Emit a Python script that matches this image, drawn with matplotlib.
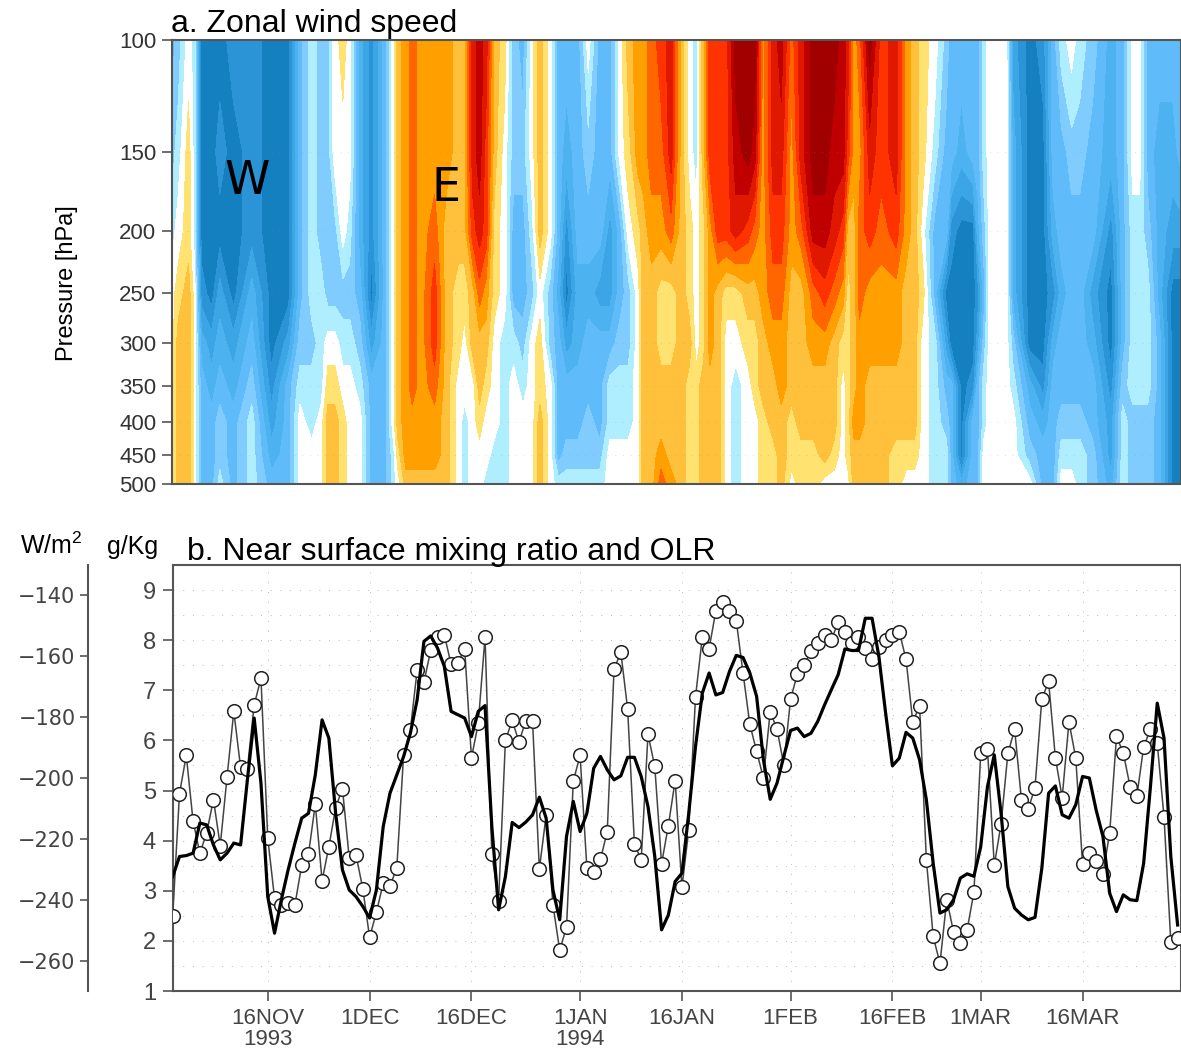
import numpy as np
import matplotlib
matplotlib.use('Agg')
import matplotlib.pyplot as plt
from matplotlib.colors import ListedColormap, BoundaryNorm

plt.rcParams['font.family'] = ['Liberation Sans', 'DejaVu Sans']
plt.rcParams['mathtext.default'] = 'regular'

W, H = 1181, 1052

pressure = [100, 150, 200, 250, 300, 350, 400, 450, 500]
pressure_labels = ['100', '150', '200', '250', '300', '350', '400', '450', '500']

# days since 2 Nov 1993, one per column of wind_bands
wind_days = [0, 1, 2.5, 3.4, 4.4, 5.9, 7.1, 9.1, 11.8, 14.7, 17.2, 18.9, 20.6, 22, 23, 24, 25.2, 26.2, 27.7, 29.4,
             31.4, 32.6, 33.3, 34.5, 35.4, 36.8, 38.7, 40.4, 42.2, 43.1, 44.3, 45.3, 46.3, 47.5, 49,
             50.3, 51.7, 53, 54.2, 55.7, 56.9, 58.1, 59.8, 61.3, 63, 64.5, 66, 67.2, 68.6, 69.4, 70.6, 72, 73.5, 75,
             76.2, 77.2, 78.2, 79.2, 80.4, 81.6, 83, 84.8, 85.8, 87, 88.5, 89.7, 91.2, 92.6, 94.4, 96.1, 97.5,
             98.8, 99.5, 100.4, 101.2, 102.7, 104.4, 106.6, 108.1, 109.3, 110.5, 112.3, 114, 114.7, 116.2, 117.9,
             118.6, 119.5, 120.4, 122.8, 123.8, 126.2, 128.2, 129.7, 130.9, 132.4, 133.6, 135.5, 138.2, 139.9,
             141.4, 142.4, 143.6, 145.3, 147.3, 148.6]

# zonal wind in 5 m/s steps, top (100 hPa) to bottom (500 hPa), negative = westerly
wind_bands = [
    [-3, -2, -1, 0, 0, 0, 0, 0, 0],
    [-2, -1, 0, 1, 2, 2, 2, 2, 2],
    [0, 1, 1, 2, 2, 2, 2, 2, 2],
    [-1, -1, -1, 0, 0, 0, 0, 0, 0],
    [-7, -7, -7, -6, -4, -3, -3, -3, -3],
    [-7, -7, -7, -7, -5, -4, -3, -3, -3],
    [-7, -6, -7, -5, -4, -3, -2, -2, -1],
    [-6, -7, -7, -7, -5, -4, -3, -3, -3],
    [-6, -6, -6, -4, -3, -2, -1, -1, -1],
    [-7, -7, -7, -7, -7, -6, -5, -4, -3],
    [-7, -7, -7, -7, -5, -3, -3, -3, -3],
    [-3, -3, -3, -3, -2, -1, 0, 0, 0],
    [-1, -1, -1, -1, -2, -1, -1, 0, 0],
    [-2, -2, -2, -1, -1, -1, 0, 0, 0],
    [-2, -2, -2, -2, 0, 1, 2, 2, 2],
    [0, 0, -2, -2, 0, 1, 2, 2, 2],
    [1, 0, 0, -2, -1, 0, 1, 1, 1],
    [0, 0, -1, -2, -1, 0, 0, 0, 0],
    [-4, -4, -4, -3, -2, -1, 0, 0, 0],
    [-6, -6, -6, -7, -5, -3, -3, -3, -3],
    [-3, -3, -3, -3, -3, -3, -3, -3, -3],
    [0, 0, 0, 0, 0, 0, 0, -1, -1],
    [2, 2, 2, 2, 2, 2, 2, 1, 0],
    [3, 3, 3, 3, 3, 3, 3, 3, 2],
    [4, 4, 4, 4, 4, 4, 3, 3, 2],
    [3, 3, 3, 3, 3, 3, 3, 3, 2],
    [3, 3, 4, 5, 5, 4, 3, 3, 2],
    [3, 3, 2, 2, 2, 2, 2, 2, 2],
    [2, 2, 2, 1, 1, 0, 0, 0, 0],
    [2, 2, 2, 1, 0, 0, -1, -1, -1],
    [6, 6, 5, 2, 2, 0, 0, 0, 0],
    [7, 7, 6, 4, 2, 2, 1, 0, 0],
    [6, 5, 5, 3, 2, 1, 0, 0, -1],
    [2, 2, 1, 1, 0, 0, 0, -1, -1],
    [1, 0, 0, 0, -1, -1, -1, -1, -1],
    [-2, -2, -3, -3, -1, 0, 0, 0, 0],
    [-3, -2, -3, -3, -2, -1, 0, 0, 0],
    [0, 0, -1, -2, 0, 0, 0, 0, 0],
    [2, 2, 2, 0, 1, 1, 2, 2, 2],
    [0, 0, 0, -2, -2, 0, 0, 0, 0],
    [-3, -3, -3, -4, -3, -3, -3, -3, -1],
    [-3, -4, -6, -7, -5, -3, -3, -2, -1],
    [-3, -3, -3, -4, -4, -3, -3, -2, -1],
    [0, -2, -3, -4, -3, -3, -2, -2, -1],
    [-3, -3, -3, -5, -3, -3, -3, -2, -1],
    [-3, -3, -5, -5, -3, -1, -1, 0, 0],
    [0, 0, -3, -3, -2, -1, -1, 0, 0],
    [2, 1, 0, -2, -2, -1, -1, 0, 0],
    [3, 3, 1, 0, 0, 0, 0, 0, 0],
    [3, 3, 2, 2, 2, 2, 2, 2, 2],
    [4, 4, 3, 2, 2, 2, 2, 2, 2],
    [5, 4, 3, 1, 1, 2, 2, 3, 4],
    [6, 6, 4, 1, 1, 2, 2, 2, 3],
    [2, 2, 2, 2, 2, 2, 2, 2, 2],
    [0, 0, 1, 1, 2, 1, 1, 1, 1],
    [-1, -1, 0, 0, 0, 1, 1, 1, 1],
    [2, 2, 1, 1, 1, 2, 2, 2, 2],
    [5, 5, 3, 3, 3, 2, 2, 2, 2],
    [5, 5, 5, 2, 2, 2, 2, 2, 2],
    [5, 5, 5, 1, 0, 0, 0, 0, 0],
    [8, 7, 6, 1, 0, -1, -1, -1, -1],
    [8, 8, 5, 2, 1, 0, 0, 0, 0],
    [8, 7, 4, 2, 1, 1, 0, 0, 0],
    [3, 3, 3, 3, 2, 2, 1, 1, 1],
    [6, 6, 5, 4, 3, 2, 2, 1, 1],
    [7, 6, 5, 4, 3, 3, 2, 2, 2],
    [4, 3, 3, 2, 2, 2, 1, 1, 0],
    [6, 6, 4, 2, 2, 2, 2, 1, 1],
    [8, 8, 7, 4, 3, 2, 2, 1, 1],
    [8, 8, 7, 5, 3, 2, 2, 2, 0],
    [8, 7, 6, 4, 2, 2, 2, 1, 0],
    [7, 7, 5, 3, 1, 0, 0, 0, 0],
    [6, 5, 2, 1, 1, 1, 1, 1, 0],
    [3, 3, 2, 2, 2, 2, 3, 2, 2],
    [4, 3, 4, 4, 3, 3, 3, 2, 2],
    [8, 6, 5, 3, 3, 2, 2, 2, 2],
    [5, 5, 4, 3, 3, 2, 2, 2, 2],
    [6, 6, 5, 3, 3, 2, 2, 1, 1],
    [3, 3, 3, 2, 2, 2, 2, 1, 0],
    [2, 2, 2, 2, 2, 2, 2, 1, 0],
    [1, 1, 0, 1, 0, 0, 0, 0, 0],
    [0, -1, -3, -3, -1, -1, -1, -1, -1],
    [-2, -3, -3, -7, -5, -3, -2, -1, -1],
    [-3, -3, -6, -7, -7, -3, -3, -3, -3],
    [-3, -4, -7, -7, -7, -7, -7, -7, -4],
    [-3, -3, -7, -7, -7, -6, -3, -3, -3],
    [-3, -3, -4, -6, -5, -3, -3, -3, -3],
    [-1, -1, -2, -3, -2, -1, -1, 0, 0],
    [0, 0, 0, 0, 0, 0, 0, 0, 0],
    [0, 0, 0, 0, 0, 0, 0, 0, 0],
    [-5, -4, -4, -4, -2, -1, 0, 0, 0],
    [-7, -7, -7, -7, -7, -4, -3, -2, 0],
    [-6, -7, -7, -7, -7, -6, -4, -3, -3],
    [-3, -3, -4, -6, -4, -3, -3, -3, -3],
    [-1, -3, -3, -4, -3, -3, -2, -1, 0],
    [0, -2, -3, -3, -3, -3, -2, -1, 0],
    [-1, -2, -3, -3, -3, -3, -2, -1, -1],
    [-2, -3, -3, -5, -4, -3, -3, -2, -2],
    [-4, -4, -6, -7, -7, -6, -5, -5, -4],
    [-3, -3, -3, -3, -3, -2, -1, -1, -1],
    [0, 0, -1, -1, -1, -1, -2, -2, -2],
    [0, 0, -1, -1, -1, -1, -2, -2, -2],
    [-3, -3, -2, -1, -1, -1, -2, -2, -2],
    [-3, -4, -4, -4, -3, -3, -3, -3, -3],
    [-3, -4, -5, -7, -7, -7, -7, -7, -7],
    [-3, -3, -5, -7, -7, -7, -7, -7, -7],
]

band_colors = ['#1580c0', '#2a94d6', '#3ba5e5', '#4db2f0', '#60bbfb', '#80ccff', '#aeeeff', '#ffffff',
               '#ffe270', '#ffc03c', '#ffa000', '#ff6600', '#ff3300', '#e01800', '#c00000', '#a00000']

# near surface mixing ratio, g/kg, one value a day from 2 Nov 1993
mixing_ratio = [2.50, 4.94, 5.70, 4.39, 3.75, 4.15, 4.82, 3.90, 5.26, 6.58, 5.46, 5.43, 6.71, 7.24, 4.05,
                2.85, 2.72, 2.76, 2.72, 3.51, 3.73, 4.73, 3.20, 3.88, 4.66, 5.04, 3.65, 3.71, 3.04, 2.07,
                2.57, 3.15, 3.10, 3.45, 5.70, 6.21, 7.40, 7.16, 7.80, 8.06, 8.11, 7.52, 7.55, 7.83, 5.65,
                6.34, 8.06, 3.73, 2.80, 6.00, 6.40, 5.97, 6.39, 6.38, 3.43, 4.51, 2.72, 1.81, 2.28, 5.19,
                5.70, 3.45, 3.37, 3.63, 4.18, 7.42, 7.76, 6.63, 3.94, 3.61, 6.12, 5.48, 3.54, 4.30, 5.20,
                3.07, 4.21, 6.87, 8.06, 7.83, 8.59, 8.77, 8.59, 8.39, 7.34, 6.32, 5.78, 5.25, 6.57, 6.23,
                5.51, 6.83, 7.32, 7.50, 7.79, 7.95, 8.10, 8.00, 8.36, 8.16, 7.94, 8.07, 7.84, 7.62, 7.86,
                8.00, 8.10, 8.17, 7.62, 6.37, 6.69, 3.61, 2.09, 1.55, 2.82, 2.18, 1.95, 2.22, 2.97, 5.74,
                5.82, 3.51, 4.33, 5.74, 6.22, 4.82, 4.63, 5.06, 6.82, 7.18, 5.65, 4.86, 6.37, 5.65, 3.53,
                3.75, 3.59, 3.33, 4.16, 6.08, 5.75, 5.08, 4.89, 5.87, 6.23, 5.94, 4.47, 1.98, 2.06]

# OLR, W/m2 (sign reversed on the axis as in the original)
olr = [-232.4, -225.8, -225.5, -224.7, -214.8, -215.4, -222.0, -226.9, -224.7, -221.4, -222.0, -200.6, -180.3,
       -201.7, -239.0, -251.0, -240.0, -230.2, -221.4, -213.2, -211.6, -199.0, -180.9, -186.9, -211.6, -230.2,
       -236.8, -239.0, -242.2, -246.0, -236.8, -216.0, -205.0, -199.0, -193.0, -185.3, -174.3, -155.1, -153.3,
       -157.3, -163.3, -178.1, -179.2, -180.3, -186.4, -178.1, -176.2, -215.9, -243.3, -232.4, -214.6, -216.3,
       -214.5, -212.1, -206.3, -213.2, -236.8, -246.6, -219.2, -207.7, -217.6, -211.6, -196.8, -192.9, -197.3,
       -200.6, -199.3, -193.2, -193.2, -199.5, -209.4, -225.8, -249.9, -245.0, -234.0, -231.3, -211.6, -189.6,
       -172.1, -165.5, -172.7, -171.9, -165.0, -159.7, -160.4, -165.5, -173.2, -194.0, -207.0, -201.7, -192.9,
       -184.4, -183.6, -186.4, -185.3, -181.4, -176.0, -171.0, -166.1, -157.6, -158.1, -158.1, -147.5, -147.5,
       -160.0, -178.7, -196.0, -193.5, -185.0, -186.9, -194.0, -207.2, -228.0, -244.4, -243.3, -240.0, -232.9,
       -231.5, -232.3, -222.6, -202.8, -192.4, -211.6, -235.7, -242.8, -245.0, -246.6, -245.8, -229.7, -205.0,
       -202.6, -212.1, -213.2, -208.8, -199.5, -200.0, -210.5, -219.2, -237.9, -243.9, -238.4, -240.0, -240.3,
       -228.0, -202.8, -175.4, -186.9, -225.8, -248.3]

date_ticks = [14, 29, 44, 60, 75, 91, 106, 119, 134]
date_labels = ['16NOV\n1993', '1DEC', '16DEC', '1JAN\n1994', '16JAN', '1FEB', '16FEB', '1MAR', '16MAR']
mixing_ticks = [1, 2, 3, 4, 5, 6, 7, 8, 9]
olr_ticks = [-260, -240, -220, -200, -180, -160, -140]


def box(left, top, right, bottom):
    return [left / W, 1 - bottom / H, (right - left) / W, (bottom - top) / H]


fig = plt.figure(figsize=(W / 100, H / 100), dpi=100)
grey = '#555555'

# panel a
ax = fig.add_axes(box(171.5, 40, 1181, 484))
wind = np.array(wind_bands).T * 5.0
levels = (np.arange(-7, 9) - 0.5) * 5
levels = np.append(levels, 100)
levels[0] = -100
cmap = ListedColormap(band_colors)
norm = BoundaryNorm(levels, cmap.N)
ax.contourf(wind_days, pressure, wind, levels=levels, cmap=cmap, norm=norm)
ax.set_yscale('log')
ax.set_ylim(500, 100)
ax.set_xlim(0, 148.5)
ax.set_xticks([])
ax.minorticks_off()
ax.set_yticks(pressure)
ax.set_yticklabels(pressure_labels, fontsize=16, color='#333333')
ax.tick_params(axis='y', which='major', length=7, width=1.2, color=grey, pad=4)
ax.tick_params(axis='y', which='minor', length=0)
for s in ax.spines.values():
    s.set_color(grey)
    s.set_linewidth(1.5)
for p in pressure[1:-1]:
    ax.axhline(p, color='#888888', lw=0.5, ls=(0, (1, 10)), alpha=0.5)
fig.text(67 / W, 1 - 283 / H, 'Pressure [hPa]', rotation=90, fontsize=17, ha='center', va='center')
fig.text(171 / W, 1 - 32 / H, 'a. Zonal wind speed', fontsize=23, ha='left', va='baseline')
fig.text(247 / W, 1 - 194 / H, 'W', fontsize=33, family='DejaVu Sans', ha='center', va='baseline')
fig.text(446 / W, 1 - 201 / H, 'E', fontsize=33, family='DejaVu Sans', ha='center', va='baseline')

# panel b
days = np.arange(len(mixing_ratio))
ax2 = fig.add_axes(box(172.7, 565, 1181, 991))
ax2.plot(days, mixing_ratio, '-o', color='#444444', lw=1.1, ms=9.8, mfc='white', mec='#222222', mew=1.1, zorder=3)
ax2.set_xlim(0, 148.5)
ax2.set_ylim(1, 9.5)
ax2.set_xticks(date_ticks)
ax2.set_xticklabels(date_labels, fontsize=16, color='#444444', linespacing=1.05)
ax2.set_yticks(mixing_ticks)
ax2.set_yticklabels([str(v) for v in mixing_ticks], fontsize=17, color='#444444')
ax2.tick_params(axis='both', length=7, width=1.2, color=grey, pad=5)
for v in np.arange(1.5, 9.5, 0.5):
    ax2.axhline(v, color='#bbbbbb', lw=0.7, ls=(0, (1, 9)), zorder=1)
for d in date_ticks:
    ax2.axvline(d, color='#bbbbbb', lw=0.7, ls=(0, (1, 9)), zorder=1)
for s in ax2.spines.values():
    s.set_color(grey)
    s.set_linewidth(1.5)

ax3 = ax2.twinx()
ax3.plot(days, olr, color='black', lw=2.3, zorder=4)
ax3.set_ylim(-270, -130)
ax3.set_xlim(0, 148.5)
ax3.yaxis.set_ticks_position('left')
ax3.yaxis.set_label_position('left')
ax3.spines['left'].set_position(('outward', 61))
ax3.spines['left'].set_color(grey)
ax3.spines['left'].set_linewidth(1.5)
ax3.spines['right'].set_visible(False)
ax3.spines['top'].set_visible(False)
ax3.spines['bottom'].set_visible(False)
ax3.set_yticks(olr_ticks)
ax3.set_yticklabels(['\u2212' + str(abs(v)) for v in olr_ticks], fontsize=15, family='DejaVu Sans', color='#444444')
ax3.tick_params(axis='y', length=6, width=1.2, color=grey, pad=3)

fig.text(187 / W, 1 - 560 / H, 'b. Near surface mixing ratio and OLR', fontsize=23, ha='left', va='baseline')
fig.text(20 / W, 1 - 554 / H, 'W/m$^2$', fontsize=18, ha='left', va='baseline')
fig.text(107 / W, 1 - 554 / H, 'g/Kg', fontsize=18, ha='left', va='baseline')

fig.savefig('out.png', dpi=100)
